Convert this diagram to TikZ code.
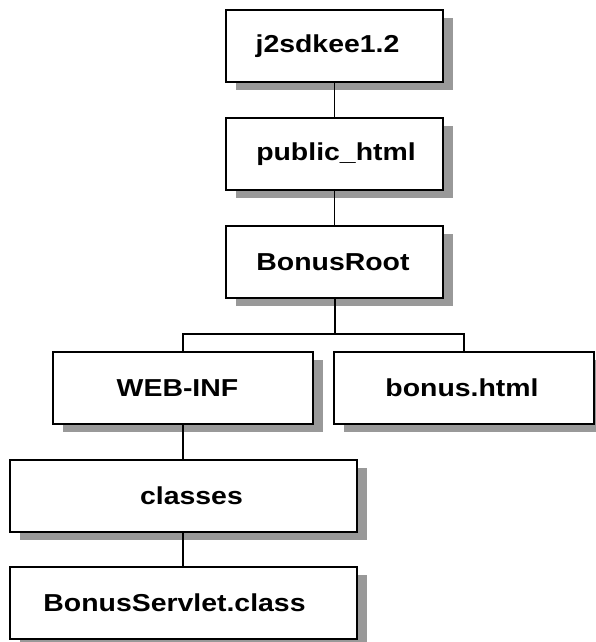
\documentclass[tikz,border=0pt]{standalone}
\usepackage{fontspec}
\newfontfamily\boxfont{Liberation Sans}[FakeStretch=1.16]
\usetikzlibrary{shadows}
\tikzset{
  dirbox/.style={draw=black, line width=1.5pt, fill=white, minimum height=72pt,
    inner sep=0pt, font=\boxfont\bfseries\fontsize{24.5}{28}\selectfont,
    drop shadow={shadow xshift=9.5pt, shadow yshift=-8pt, fill=black!40, opacity=1}},
  link/.style={line width=1.4pt, draw=black}
}
\begin{document}
\begin{tikzpicture}[x=1pt, y=1pt]
  \useasboundingbox (0,0) rectangle (595,642);
  % directory tree boxes (labels nudged off-centre with \hspace*)
  \node[dirbox, minimum width=217pt] (sdk)    at (334.5, 596) {j2sdkee1.2\hspace*{14pt}};
  \node[dirbox, minimum width=217pt] (pub)    at (334.5, 488) {\hspace*{3pt}public\_html};
  \node[dirbox, minimum width=217pt] (root)   at (334.5, 380) {BonusRoot\hspace*{3pt}};
  \node[dirbox, minimum width=260pt] (web)    at (183, 254)   {WEB-INF\hspace*{11pt}};
  \node[dirbox, minimum width=260pt] (bonus)  at (464, 254)   {bonus.html\hspace*{4pt}};
  \node[dirbox, minimum width=347pt] (cls)    at (183.5, 146) {\hspace*{16pt}classes};
  \node[dirbox, minimum width=347pt] (servlet) at (183.5, 39) {BonusServlet.class\hspace*{18pt}};
  \coordinate (split) at (334.5, 308);
  % connectors
  \draw[link] (sdk.south) -- (pub.north);
  \draw[link] (pub.south) -- (root.north);
  \draw[link, line width=2pt] (root.south) -- (split);
  \draw[link] (web.north) |- (split) -| (bonus.north);
  \draw[link] (web.south) -- (web.south |- cls.north);
  \draw[link] (web.south |- cls.south) -- (web.south |- servlet.north);
\end{tikzpicture}
\end{document}
